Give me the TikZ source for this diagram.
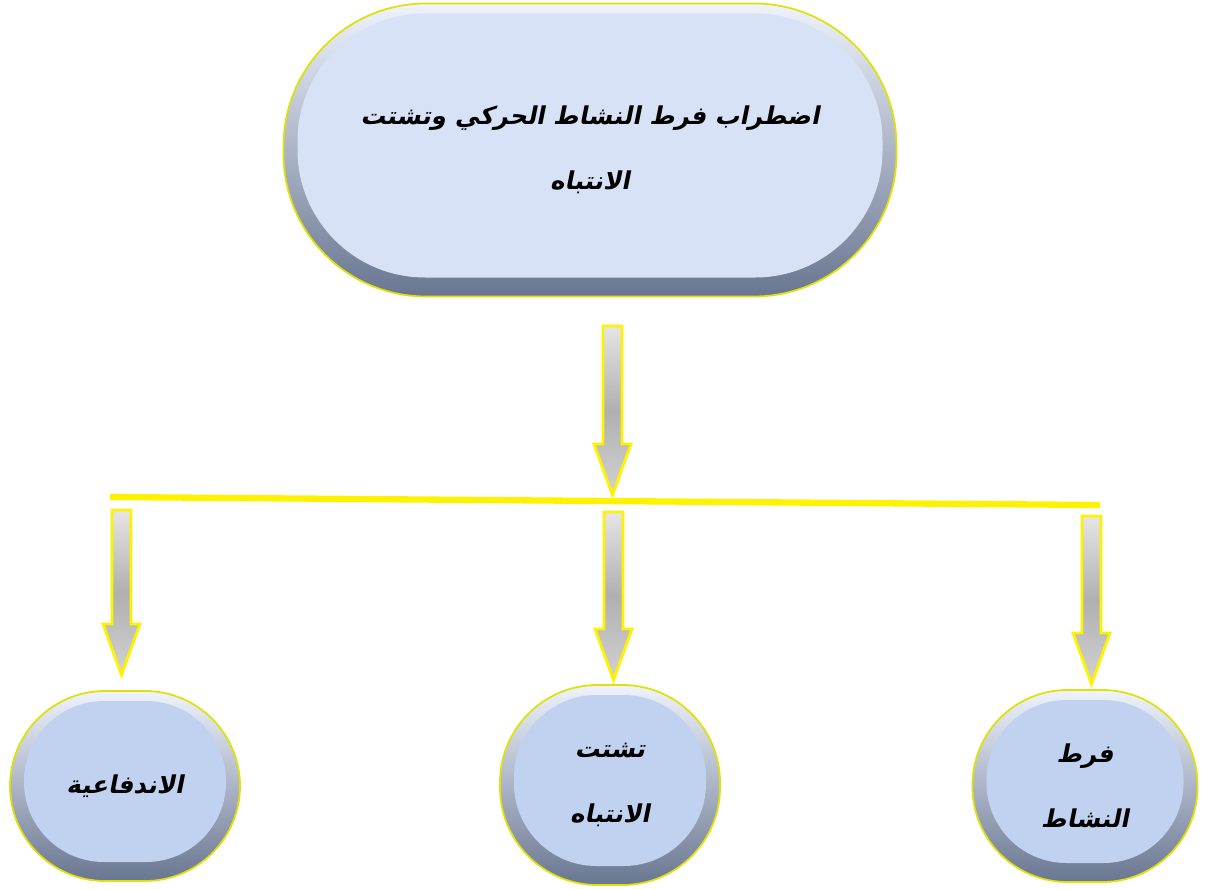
\documentclass[tikz,border=0pt]{standalone}
\usepackage{fontspec}
\TeXXeTstate=1
\newfontfamily\arabicfont[Script=Arabic,FakeSlant=0.2]{DejaVu Sans}
\usetikzlibrary{calc}

% colours of the chart
\definecolor{rimyellow}{RGB}{225,225,10}
\definecolor{faceblue}{RGB}{192,210,240}
\definecolor{facepale}{RGB}{216,226,246}
\definecolor{rimdark}{RGB}{105,118,145}
\definecolor{rimlight}{RGB}{238,243,252}

\tikzset{
  bubble/.style 2 args={rectangle, rounded corners=#1, draw=rimyellow, line width=1pt,
    top color=rimlight, bottom color=rimdark, align=center,
    font=\arabicfont\bfseries\fontsize{14}{37}\selectfont,
    path picture={\fill[#2, rounded corners=#1-0.3cm]
      ($(path picture bounding box.south west)+(0.28,0.38)$) rectangle
      ($(path picture bounding box.north east)+(-0.28,-0.2)$);}},
  barrow/.style={draw=yellow, line width=1.6pt, top color=gray!20,
    bottom color=gray!35, middle color=gray!62},
  hline/.style={yellow, line width=3.6pt}
}

% block arrow from #1 (top of shaft) down to #2 (tip)
\newcommand{\blockarrow}[2]{%
  \path[barrow] ($(#1)+(-0.19,0)$) -- ($(#2)+(-0.19,1.02)$) -- ($(#2)+(-0.37,1.02)$)
    -- (#2) -- ($(#2)+(0.37,1.02)$) -- ($(#2)+(0.19,1.02)$) -- ($(#1)+(0.19,0)$) -- cycle;}

\begin{document}
\begin{tikzpicture}

    \useasboundingbox (0,0) rectangle (24.1,-17.78);

    % --- main box ---
    \node[bubble={2.85cm}{facepale}, minimum width=12.26cm, minimum height=5.86cm]
      (adhd) at (11.8,-3.0)
      {\beginR اضطراب فرط النشاط الحركي وتشتت\endR\\\beginR الانتباه\endR};

    % --- the three parts ---
    \node[bubble={1.9cm}{faceblue}, minimum width=4.6cm, minimum height=3.8cm]
      (impuls) at (2.5,-15.72) {\beginR الاندفاعية\endR};
    \node[bubble={1.95cm}{faceblue}, minimum width=4.4cm, minimum height=4.0cm]
      (attn) at (12.2,-15.7) {\beginR تشتت\endR\\\beginR الانتباه\endR};
    \node[bubble={1.9cm}{faceblue}, minimum width=4.5cm, minimum height=3.84cm]
      (hyper) at (21.7,-15.72) {\beginR فرط\endR\\\beginR النشاط\endR};

    % --- branch line ---
    \coordinate (hl) at (2.2,-9.94);
    \coordinate (hr) at (22.0,-10.1);
    \draw[hline] (hl) -- (hr);

    % --- arrows ---
    \coordinate (a0) at (12.25,-6.52);
    \coordinate (t0) at (12.25,-9.9);
    \coordinate (a1) at (2.43,-10.2);
    \coordinate (t1) at (2.43,-13.5);
    \coordinate (a2) at (12.27,-10.24);
    \coordinate (t2) at (12.27,-13.6);
    \coordinate (a3) at (21.83,-10.32);
    \coordinate (t3) at (21.83,-13.68);
    \blockarrow{a0}{t0}
    \blockarrow{a1}{t1}
    \blockarrow{a2}{t2}
    \blockarrow{a3}{t3}

\end{tikzpicture}
\end{document}
